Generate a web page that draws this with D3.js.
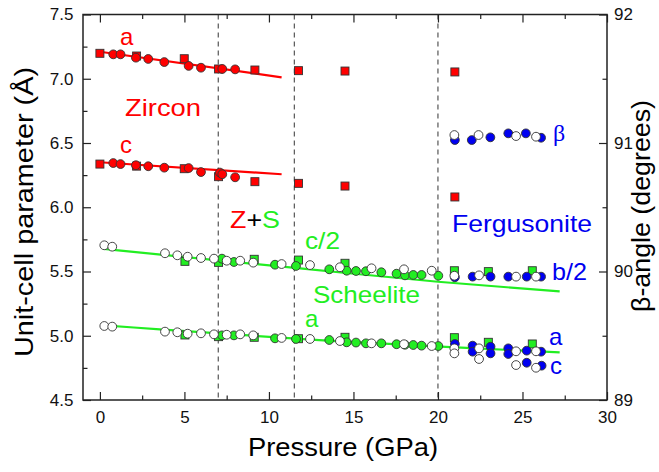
<!DOCTYPE html>
<html>
<head>
<meta charset="utf-8">
<script src="https://cdn.jsdelivr.net/npm/d3@7"></script>
<style>
  body { margin: 0; background: #fff; }
  svg text { font-family: "Liberation Sans", Arial, sans-serif; }
</style>
</head>
<body>
<script>
// ---- data (pressure GPa, value) ----
var zirconACircles = [[0.79,7.19],[1.22,7.19],[2.13,7.164],[2.86,7.154],[3.81,7.13],[5.25,7.10],[5.98,7.086],[7.24,7.076],[8.0,7.073]];
var zirconASquares = [[0,7.198],[2.17,7.177],[4.99,7.156],[7.02,7.076],[9.17,7.068],[11.75,7.063],[14.5,7.06],[21.0,7.053]];
var zirconCCircles = [[0.79,6.344],[1.22,6.336],[2.13,6.327],[2.86,6.319],[3.81,6.308],[5.25,6.305],[5.98,6.274],[7.1,6.27],[7.24,6.257],[8.0,6.233]];
var zirconCSquares = [[0,6.336],[2.17,6.32],[4.99,6.30],[7.02,6.238],[9.17,6.199],[11.75,6.186],[14.5,6.165],[21.0,6.08]];
var zirconAFit = [[0,7.21],[10.75,7.011]];
var zirconCFit = [[0,6.35],[10.75,6.257]];

var schCCircles = [[7.22,5.60],[7.93,5.574],[10.36,5.553],[11.6,5.543],[13.57,5.517],[14.6,5.506],[15.15,5.504],[15.74,5.502],[16.65,5.494],[17.55,5.483],[18.05,5.47],[18.54,5.473],[19.03,5.473],[20.02,5.467]];
var schCSquares = [[5.03,5.579],[7.02,5.571],[9.13,5.595],[11.75,5.589],[14.5,5.564],[20.97,5.506],[22.98,5.499],[25.58,5.506]];
var schCOpen = [[0.26,5.704],[0.73,5.693],[3.85,5.642],[4.58,5.626],[5.19,5.615],[5.98,5.605],[6.75,5.60],[7.5,5.584],[8.3,5.584],[9.07,5.569],[10.75,5.558],[12.43,5.55],[14.2,5.533],[16.07,5.525],[17.99,5.517],[19.63,5.506]];
var schACircles = [[7.22,5.003],[7.93,5.003],[10.36,4.98],[11.6,4.975],[13.57,4.967],[14.6,4.949],[15.15,4.947],[15.74,4.941],[16.65,4.941],[17.55,4.934],[18.05,4.93],[18.54,4.928],[19.03,4.923],[20.02,4.92]];
var schASquares = [[5.03,5.006],[7.02,4.993],[9.13,4.988],[11.75,4.977],[14.5,4.988],[20.97,4.985],[22.98,4.949],[25.58,4.936]];
var schAOpen = [[0.26,5.076],[0.73,5.071],[3.85,5.032],[4.58,5.027],[5.19,5.016],[5.98,5.019],[6.75,5.011],[7.5,5.008],[8.3,5.011],[9.07,5.003],[10.75,4.983],[12.43,4.975],[14.2,4.959],[16.07,4.941],[17.99,4.934],[19.63,4.92]];
var schCFit = [[0.25,5.675],[12,5.522],[20,5.42],[27.2,5.345]];
var schAFit = [[0.25,5.08],[3.55,5.05],[11.83,4.975],[27.2,4.871]];

var fergB = [[21.0,5.455],[22.05,5.46],[23.11,5.46],[24.16,5.46],[25.25,5.46],[26.1,5.46]];
var fergBOpen = [[20.97,5.467],[22.43,5.47],[24.62,5.46],[25.8,5.46]];
var fergA = [[21.0,4.936],[22.05,4.923],[23.11,4.915],[24.16,4.902],[25.25,4.884],[26.1,4.876]];
var fergAOpen = [[20.97,4.902],[22.43,4.902],[24.62,4.879],[25.8,4.879]];
var fergC = [[22.05,4.876],[23.11,4.863],[24.16,4.858],[25.25,4.79],[26.13,4.767]];
var fergCOpen = [[20.97,4.863],[22.43,4.819],[24.62,4.772],[25.8,4.751]];
// beta angle (degrees, right axis)
var beta = [[21.0,91.023],[22.0,91.023],[23.1,91.044],[24.16,91.075],[25.2,91.075],[26.1,91.041]];
var betaOpen = [[20.97,91.062],[22.4,91.062],[24.62,91.054],[25.8,91.049]];

var transitions = [7, 11.5, 20];
var xMajor = [0,5,10,15,20,25,30];
var xMinor = [2.5,7.5,12.5,17.5,22.5,27.5];
var yMajor = [4.5,5.0,5.5,6.0,6.5,7.0,7.5];
var yMinor = [4.75,5.25,5.75,6.25,6.75,7.25];
var rMajor = [89,90,91,92];
var rMinor = [89.5,90.5,91.5];

var width = 659, height = 472;
var RED = "#ff0000", GREEN = "#22ee22", BLUE = "#0000f0", EDGE = "#333";

var svg = d3.select("body").append("svg").attr("width", width).attr("height", height);

var x = d3.scaleLinear().domain([-1, 30]).range([83, 607]);
var y = d3.scaleLinear().domain([4.5, 7.5]).range([400, 14.5]);
var yR = d3.scaleLinear().domain([89, 92]).range([400, 14.5]);

// dashed phase boundaries
svg.selectAll("line.dash").data(transitions).enter().append("line")
  .attr("x1", d => x(d)).attr("x2", d => x(d))
  .attr("y1", y(7.5)).attr("y2", y(4.5))
  .attr("stroke", "#333").attr("stroke-width", 1).attr("stroke-dasharray", "5,4");

// fits
var line = d3.line().x(d => x(d[0])).y(d => y(d[1]));
var curved = d3.line().x(d => x(d[0])).y(d => y(d[1])).curve(d3.curveMonotoneX);
[[zirconAFit, RED, line], [zirconCFit, RED, line], [schCFit, GREEN, curved], [schAFit, GREEN, curved]].forEach(function (f) {
  svg.append("path").attr("d", f[2](f[0])).attr("fill", "none").attr("stroke", f[1]).attr("stroke-width", 2.2);
});

function squares(data, color, ys) {
  svg.append("g").selectAll("rect").data(data).enter().append("rect")
    .attr("x", d => x(d[0]) - 4).attr("y", d => (ys || y)(d[1]) - 4)
    .attr("width", 8).attr("height", 8)
    .attr("fill", color).attr("stroke", EDGE).attr("stroke-width", 0.9);
}
function circles(data, color, ys) {
  svg.append("g").selectAll("circle").data(data).enter().append("circle")
    .attr("cx", d => x(d[0])).attr("cy", d => (ys || y)(d[1])).attr("r", 4.4)
    .attr("fill", color).attr("stroke", EDGE).attr("stroke-width", 0.9);
}

squares(zirconASquares, RED); squares(zirconCSquares, RED);
squares(schCSquares, GREEN); squares(schASquares, GREEN);
circles(zirconACircles, RED); circles(zirconCCircles, RED);
circles(schCCircles, GREEN); circles(schACircles, GREEN);
circles(fergB, BLUE); circles(fergA, BLUE); circles(fergC, BLUE);
circles(beta, BLUE, yR);
circles(schCOpen, "#fff"); circles(schAOpen, "#fff");
circles(fergBOpen, "#fff"); circles(fergAOpen, "#fff"); circles(fergCOpen, "#fff");
circles(betaOpen, "#fff", yR);

// axes
function styleAxis(g) {
  g.select(".domain").remove();
  g.selectAll("line").attr("stroke", "#222").attr("stroke-width", 1.2);
  g.selectAll("text").attr("font-size", 17).attr("fill", "#111")
    .style("font-family", "'Liberation Sans', Arial, sans-serif");
}
svg.append("g").attr("transform", "translate(0,400)")
  .call(d3.axisBottom(x).tickValues(xMajor).tickSizeInner(-8).tickSizeOuter(0).tickPadding(11)).call(styleAxis);
svg.append("g").attr("transform", "translate(0,400)")
  .call(d3.axisBottom(x).tickValues(xMinor).tickSizeInner(-4.5).tickSizeOuter(0).tickFormat("")).call(styleAxis);
svg.append("g").attr("transform", "translate(0,14.5)")
  .call(d3.axisTop(x).tickValues(xMajor).tickSizeInner(-8).tickSizeOuter(0).tickFormat("")).call(styleAxis);
svg.append("g").attr("transform", "translate(0,14.5)")
  .call(d3.axisTop(x).tickValues(xMinor).tickSizeInner(-4.5).tickSizeOuter(0).tickFormat("")).call(styleAxis);
svg.append("g").attr("transform", "translate(83,0)")
  .call(d3.axisLeft(y).tickValues(yMajor).tickSizeInner(-8).tickSizeOuter(0).tickPadding(9.5).tickFormat(d3.format(".1f"))).call(styleAxis);
svg.append("g").attr("transform", "translate(83,0)")
  .call(d3.axisLeft(y).tickValues(yMinor).tickSizeInner(-4.5).tickSizeOuter(0).tickFormat("")).call(styleAxis);
svg.append("g").attr("transform", "translate(607,0)")
  .call(d3.axisRight(yR).tickValues(rMajor).tickSizeInner(-8).tickSizeOuter(0).tickPadding(7).tickFormat(d3.format("d"))).call(styleAxis);
svg.append("g").attr("transform", "translate(607,0)")
  .call(d3.axisRight(yR).tickValues(rMinor).tickSizeInner(-4.5).tickSizeOuter(0).tickFormat("")).call(styleAxis);

// frame
svg.append("rect").attr("x", 83).attr("y", 14.5).attr("width", 524).attr("height", 385.5)
  .attr("fill", "none").attr("stroke", "#222").attr("stroke-width", 1.5);

// axis titles
svg.append("text").attr("x", 343).attr("y", 456).attr("text-anchor", "middle")
  .attr("font-size", 26).attr("textLength", 190).attr("lengthAdjust", "spacingAndGlyphs")
  .text("Pressure (GPa)");
svg.append("text").attr("transform", "translate(33,212) rotate(-90)").attr("text-anchor", "middle")
  .attr("font-size", 26).attr("textLength", 290).attr("lengthAdjust", "spacingAndGlyphs")
  .text("Unit-cell parameter (Å)");
svg.append("text").attr("transform", "translate(650,206) rotate(-90)").attr("text-anchor", "middle")
  .attr("font-size", 26).attr("textLength", 212).attr("lengthAdjust", "spacingAndGlyphs")
  .text("β-angle (degrees)");

// annotations
function label(t, px, py, color, len) {
  var s = svg.append("text").attr("x", px).attr("y", py).attr("fill", color).attr("font-size", 24).text(t);
  if (len) s.attr("textLength", len).attr("lengthAdjust", "spacingAndGlyphs");
  return s;
}
label("a", 120, 45, RED);
label("c", 120, 153, RED);
label("Zircon", 125, 116, RED, 76);
var zs = svg.append("text").attr("x", 230).attr("y", 228).attr("font-size", 24)
  .attr("textLength", 50).attr("lengthAdjust", "spacingAndGlyphs");
zs.append("tspan").attr("fill", RED).text("Z");
zs.append("tspan").attr("fill", "#000").text("+");
zs.append("tspan").attr("fill", GREEN).text("S");
label("c/2", 305, 249, GREEN, 35);
label("Scheelite", 313, 303, GREEN, 107);
label("a", 305, 327, GREEN);
label("Fergusonite", 452, 232, BLUE, 140);
label("b/2", 552, 280, BLUE, 35);
label("a", 549, 345, BLUE);
label("c", 550, 374, BLUE);
svg.append("text").attr("x", 553).attr("y", 141).attr("fill", BLUE).attr("font-size", 24)
  .style("font-family", "'Liberation Serif', 'Times New Roman', serif").text("β");
</script>
</body>
</html>
